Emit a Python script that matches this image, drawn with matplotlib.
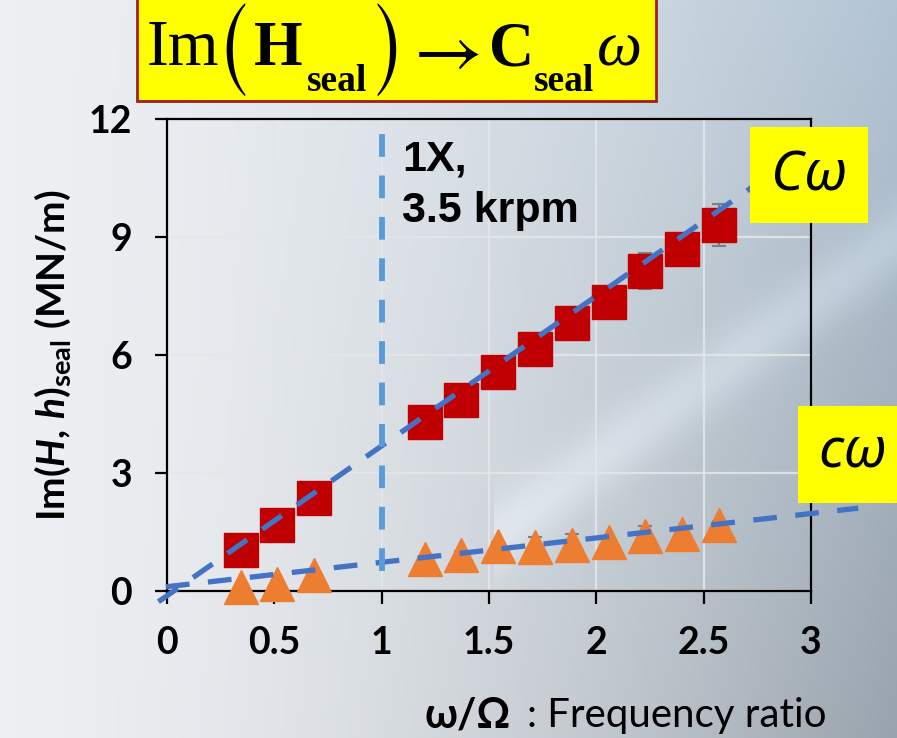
import numpy as np
import matplotlib
matplotlib.use("Agg")
import matplotlib.pyplot as plt
from matplotlib.patches import Rectangle

# frequency ratio w/W (20..150 Hz at 3.5 krpm)
freq_ratio = [0.343, 0.514, 0.686, 1.2, 1.371, 1.543, 1.714, 1.886, 2.057, 2.229, 2.4, 2.571]

# Im(H)_seal, red squares (MN/m)
im_H = [1.04, 1.68, 2.36, 4.29, 4.86, 5.57, 6.15, 6.81, 7.35, 8.14, 8.70, 9.31]
im_H_err = [0.2, 0.2, 0.2, 0.25, 0.2, 0.2, 0.2, 0.25, 0.25, 0.46, 0.3, 0.53]

# Im(h)_seal, orange triangles (MN/m)
im_h = [0.09, 0.19, 0.40, 0.82, 0.92, 1.15, 1.12, 1.18, 1.24, 1.40, 1.46, 1.67]
im_h_err = [0.05, 0.05, 0.05, 0.05, 0.1, 0.1, 0.26, 0.27, 0.1, 0.26, 0.1, 0.1]

# fitted lines C*w and c*w
C_slope, C_int, C_range = 3.81, -0.12, (-0.04, 3.0)
c_slope, c_int, c_range = 0.62, 0.11, (-0.005, 3.22)

one_x = 1.0
one_x_span = (0.5, 11.8)

x_ticks = [0, 0.5, 1, 1.5, 2, 2.5, 3]
x_tick_labels = ["0", "0.5", "1", "1.5", "2", "2.5", "3"]
y_ticks = [0, 3, 6, 9, 12]

W, H = 897, 738
plt.rcParams["mathtext.fontset"] = "custom"
plt.rcParams["mathtext.rm"] = "Lato:bold"
plt.rcParams["mathtext.it"] = "Lato:bold:italic"
plt.rcParams["mathtext.bf"] = "Lato:bold"

fig = plt.figure(figsize=(W / 100, H / 100), dpi=100)

# background gradient
bg = fig.add_axes([0, 0, 1, 1], zorder=0)
yy, xx = np.mgrid[0:1:200j, 0:1:240j]
left = np.array([0.93, 0.94, 0.95])
top_right = np.array([0.70, 0.77, 0.83])
bot_right = np.array([0.60, 0.64, 0.68])
right = top_right[None, None, :] * (1 - yy[..., None]) + bot_right[None, None, :] * yy[..., None]
t = (xx ** 1.6)[..., None]
img = left[None, None, :] * (1 - t) + right * t
# faint light swoosh across upper right
d = np.abs((yy - 0.55) + 0.9 * (xx - 0.75))
img = np.clip(img + 0.07 * np.exp(-(d / 0.05) ** 2)[..., None] * (xx[..., None] > 0.55), 0, 1)
bg.imshow(img, extent=[0, 1, 0, 1], aspect="auto", origin="upper")
bg.axis("off")

# main axes
ax = fig.add_axes([167 / W, 1 - 591 / H, (811 - 167) / W, (591 - 119) / H], zorder=2)
ax.set_facecolor("none")
ax.set_xlim(0, 3)
ax.set_ylim(0, 12)
ax.set_xticks(x_ticks)
ax.set_xticklabels(x_tick_labels)
ax.set_yticks(y_ticks)
ax.grid(True, color="#e4e6e8", lw=1.6, alpha=0.9)
ax.set_axisbelow(True)
for s in ax.spines.values():
    s.set_linewidth(1.6)
    s.set_color("black")
ax.tick_params(direction="out", length=9, width=1.6, labelsize=27)
ax.tick_params(axis="x", pad=16)
ax.tick_params(axis="y", pad=16)
for lab in ax.get_xticklabels() + ax.get_yticklabels():
    lab.set_fontfamily("Lato")
    lab.set_fontweight("bold")

ax.errorbar(freq_ratio, im_H, yerr=im_H_err, fmt="none", ecolor="#7f7f7f",
            elinewidth=1.5, capsize=5, capthick=1.5, zorder=2)
ax.errorbar(freq_ratio, im_h, yerr=im_h_err, fmt="none", ecolor="#7f7f7f",
            elinewidth=1.5, capsize=5, capthick=1.5, zorder=2)
ax.plot(freq_ratio, im_H, "s", ms=24, color="#c00000", mec="#c00000", zorder=3, clip_on=False)
ax.plot(freq_ratio, im_h, "^", ms=24, color="#ed7d31", mec="#ed7d31", zorder=3, clip_on=False)

xc = np.array(C_range)
ax.plot(xc, C_slope * xc + C_int, color="#4472c4", lw=3.8, dashes=(4.5, 3.5),
        zorder=4, clip_on=False)
xs = np.array(c_range)
ax.plot(xs, c_slope * xs + c_int, color="#4472c4", lw=3.8, dashes=(4.5, 3.5),
        zorder=4, clip_on=False)
ax.plot([one_x, one_x], one_x_span, color="#5b9bd5", lw=4.2, dashes=(3.9, 3.2), zorder=4)

ax.text(1.097, 10.68, "1X,", fontsize=31, fontweight="bold", family="Liberation Sans",
        ha="left", va="baseline", zorder=5)
ax.text(1.097, 9.38, "3.5 krpm", fontsize=31, fontweight="bold", family="Liberation Sans",
        ha="left", va="baseline", zorder=5)

# overlay in pixel coordinates for boxes and labels
ov = fig.add_axes([0, 0, 1, 1], zorder=10)
ov.set_xlim(0, W)
ov.set_ylim(H, 0)
ov.axis("off")
ov.patch.set_alpha(0)

# title box: Im(H_seal) -> C_seal w
ov.add_patch(Rectangle((137, -5), 519, 106, facecolor="#ffff00", edgecolor="#a01e1e", lw=2))
serif = "Liberation Serif"
big = "STIXSizeOneSym"
base, sub = 65, 91
ov.text(147, base, "Im", fontsize=47, family=serif, va="baseline")
ov.text(233, 49, "(", fontsize=55, family=big, ha="center", va="center")
ov.text(254, base, "H", fontsize=45, family=serif, fontweight="bold", va="baseline")
ov.text(307, sub, "seal", fontsize=27, family=serif, fontweight="bold", va="baseline")
ov.text(388, 49, ")", fontsize=55, family=big, ha="center", va="center")
ov.text(442, 51, r"$\rightarrow$", fontsize=54, math_fontfamily="stix", ha="center", va="center")
ov.text(489, base, "C", fontsize=45, family=serif, fontweight="bold", va="baseline")
ov.text(534, sub, "seal", fontsize=27, family=serif, fontweight="bold", va="baseline")
ov.text(597, base, "ω", fontsize=46, family=serif, style="italic", va="baseline")

ov.add_patch(Rectangle((750, 127), 118, 96, facecolor="#ffff00", edgecolor="none"))
ov.text(809, 176, "Cω", fontsize=40, style="italic", family="Noto Sans",
        ha="center", va="center")
ov.add_patch(Rectangle((798, 406), 110, 97, facecolor="#ffff00", edgecolor="none"))
ov.text(853, 452, "cω", fontsize=40, style="italic", family="Noto Sans",
        ha="center", va="center")

ov.text(53, 355, r"$\mathrm{Im(}\mathit{H}\mathrm{,}\ \mathit{h}\mathrm{)}_{\mathrm{seal}}\ \mathrm{(MN/m)}$",
        fontsize=28, rotation=90, ha="center", va="center")

ov.text(425, 727, "ω/Ω", fontsize=30, fontweight="bold", family="Lato", ha="left", va="baseline")
ov.text(527, 727, ": Frequency ratio", fontsize=29, family="Lato", ha="left", va="baseline")

fig.savefig("out.png", dpi=100)
